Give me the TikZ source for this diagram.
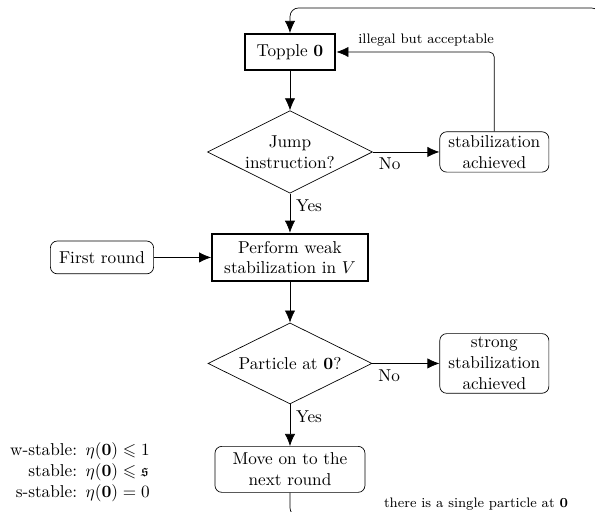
\documentclass[tikz,border=0pt]{standalone}
\usepackage{amsmath,amssymb}
\usetikzlibrary{shapes.geometric,arrows.meta}
\tikzset{
    process/.style={draw,very thick,align=center,inner xsep=7pt,inner ysep=4.2pt,minimum height=0.735cm},
    outcome/.style={draw,rounded corners=4pt,align=center,inner xsep=5pt,inner ysep=2.2pt,minimum height=0.67cm},
    decision/.style={draw,diamond,aspect=2,align=center,inner sep=1pt,minimum width=3.35cm,minimum height=1.655cm},
    flow/.style={-{Latex[length=7pt,width=6pt]}},
    note/.style={font=\footnotesize}
}
\begin{document}
\begin{tikzpicture}
            \useasboundingbox (0,0) rectangle (12.157,-10.46);
            \clip (0,0) rectangle (12.157,-10.46);
            \node[process] (topple) at (5.925,-1.062) {Topple $\mathbf{0}$};
            \node[decision] (jump) at (5.925,-3.105) {Jump\\instruction?};
            \node[outcome] (achieved) at (10.10,-3.105) {stabilization\\achieved};
            \node[process] (weak) at (5.925,-5.26) {Perform weak\\stabilization in $V$};
            \node[outcome] (first) at (2.084,-5.26) {First round};
            \node[decision] (particle) at (5.925,-7.426) {Particle at $\mathbf{0}$?};
            \node[outcome] (strong) at (10.10,-7.426) {strong\\stabilization\\achieved};
            \node[outcome,minimum width=3.065cm,minimum height=0.94cm] (move) at (5.925,-9.59) {Move on to the\\next round};
            \node[anchor=west,inner sep=0pt] (levels) at (0.2,-9.65) {%
                \begin{tabular}{@{}r@{\hspace{5pt}}l@{}}
                    w-stable: & $\eta(\mathbf{0})\leqslant 1$\\
                    stable: & $\eta(\mathbf{0})\leqslant \mathfrak{s}$\\
                    s-stable: & $\eta(\mathbf{0})=0$
                \end{tabular}};
            \coordinate (loopbr) at (12.26,-10.55);
            \coordinate (looptr) at (12.26,-0.163);

            \draw[flow] (topple) -- (jump);
            \draw[flow] (jump) -- node[pos=0,below right] {No} (achieved);
            \draw[flow] (jump) -- node[pos=0,below right] {Yes} (weak);
            \draw[flow,rounded corners=3pt] (achieved) |- node[note,pos=0.5,above left,inner xsep=0pt] {illegal but acceptable} (topple);
            \draw[flow] (first) -- (weak);
            \draw[flow] (weak) -- (particle);
            \draw[flow] (particle) -- node[pos=0,below right] {No} (strong);
            \draw[flow] (particle) -- node[pos=0,below right] {Yes} (move);
            \draw[flow,rounded corners=5pt] (move) |- node[note,above,pos=0.8] {there is a single particle at $\mathbf{0}$} (loopbr) -- (looptr) -| (topple);
\end{tikzpicture}
\end{document}
